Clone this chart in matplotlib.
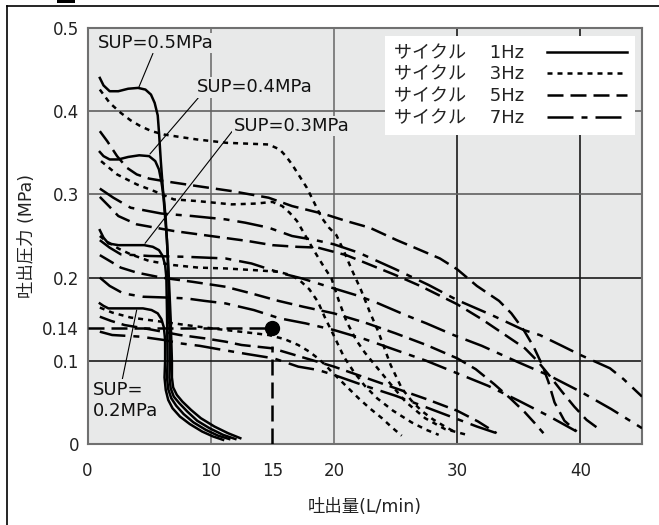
import matplotlib
matplotlib.use("Agg")
import matplotlib.pyplot as plt
from matplotlib.lines import Line2D
from matplotlib.patches import Rectangle

plt.rcParams['font.family'] = ['DejaVu Sans', 'Noto Sans CJK JP']

# ---- data (x: L/min, y: MPa) ----
# 1Hz (solid) curves, SUP = 0.2 / 0.3 / 0.4 / 0.5 MPa
hz1_sup02_x = [1.0, 1.3, 1.7, 2.5, 3.5, 4.5, 5.2, 5.7, 6.0, 6.2, 6.3, 6.3, 6.25, 6.35, 6.55, 6.9, 7.5, 8.3, 9.3, 10.2, 11.0]
hz1_sup02_y = [0.169, 0.166, 0.163, 0.163, 0.163, 0.163, 0.161, 0.157, 0.15, 0.14, 0.125, 0.1, 0.08, 0.065, 0.053, 0.043, 0.033, 0.024, 0.015, 0.009, 0.005]
hz1_sup03_x = [1.0, 1.3, 1.7, 2.5, 3.5, 4.6, 5.3, 5.8, 6.1, 6.3, 6.4, 6.45, 6.5, 6.45, 6.55, 6.8, 7.2, 7.8, 8.6, 9.6, 10.6, 11.5]
hz1_sup03_y = [0.257, 0.248, 0.241, 0.239, 0.239, 0.239, 0.237, 0.233, 0.226, 0.215, 0.2, 0.16, 0.1, 0.08, 0.066, 0.055, 0.046, 0.036, 0.026, 0.017, 0.01, 0.006]
hz1_sup04_x = [1.0, 1.3, 1.8, 2.5, 3.3, 4.2, 5.0, 5.5, 5.8, 6.0, 6.2, 6.35, 6.5, 6.6, 6.65, 6.7, 6.65, 6.75, 7.0, 7.45, 8.1, 8.9, 9.9, 11.0, 12.0]
hz1_sup04_y = [0.351, 0.346, 0.342, 0.342, 0.345, 0.347, 0.346, 0.34, 0.33, 0.315, 0.295, 0.27, 0.23, 0.18, 0.14, 0.1, 0.08, 0.067, 0.057, 0.049, 0.039, 0.028, 0.019, 0.011, 0.006]
hz1_sup05_x = [1.0, 1.3, 1.8, 2.5, 3.3, 4.1, 4.7, 5.15, 5.45, 5.7, 5.8, 5.95, 6.15, 6.45, 6.6, 6.75, 6.85, 6.85, 6.95, 7.25, 7.7, 8.4, 9.2, 10.3, 11.4, 12.4]
hz1_sup05_y = [0.44, 0.431, 0.424, 0.424, 0.427, 0.428, 0.426, 0.42, 0.41, 0.395, 0.375, 0.34, 0.3, 0.245, 0.2, 0.15, 0.1, 0.08, 0.068, 0.059, 0.051, 0.041, 0.031, 0.021, 0.013, 0.007]

# 3Hz (dotted)
hz3_sup02_x = [1.0, 2.0, 3.5, 5.0, 7.0, 9.0, 11.2, 13.0, 14.7, 16.0, 17.1, 18.0, 18.7, 19.3, 19.8, 20.9, 22.0, 22.9, 23.9, 24.7, 25.5]
hz3_sup02_y = [0.164, 0.158, 0.152, 0.149, 0.145, 0.141, 0.137, 0.134, 0.131, 0.126, 0.119, 0.111, 0.103, 0.095, 0.087, 0.071, 0.055, 0.043, 0.031, 0.02, 0.01]
hz3_sup03_x = [1.0, 1.5, 2.5, 3.5, 5.0, 7.0, 9.0, 11.2, 13.5, 15.5, 16.5, 17.2, 18.0, 18.7, 19.3, 20.0, 20.8, 21.6, 22.5, 23.5, 24.8, 26.3, 27.5, 28.5]
hz3_sup03_y = [0.25, 0.244, 0.235, 0.228, 0.22, 0.215, 0.212, 0.211, 0.209, 0.207, 0.203, 0.197, 0.186, 0.171, 0.151, 0.13, 0.105, 0.087, 0.07, 0.055, 0.04, 0.026, 0.017, 0.011]
hz3_sup04_x = [1.1, 2.4, 4.0, 5.4, 7.0, 8.9, 11.7, 13.7, 15.0, 15.8, 16.4, 17.0, 17.7, 18.4, 19.1, 19.8, 20.4, 21.0, 21.8, 22.5, 23.6, 24.6, 25.8, 27.4, 29.0, 30.8]
hz3_sup04_y = [0.34, 0.324, 0.312, 0.304, 0.294, 0.292, 0.288, 0.289, 0.291, 0.286, 0.278, 0.268, 0.25, 0.232, 0.215, 0.199, 0.172, 0.148, 0.125, 0.11, 0.09, 0.072, 0.051, 0.031, 0.018, 0.011]
hz3_sup05_x = [1.0, 1.8, 2.7, 3.5, 4.3, 5.2, 6.2, 7.5, 8.9, 10.1, 11.3, 13.0, 14.7, 15.6, 16.1, 16.6, 17.2, 17.8, 18.4, 19.0, 19.6, 20.2, 20.8, 21.4, 22.2, 22.9, 23.6, 24.1, 24.6, 25.5, 26.3, 27.1, 28.0, 29.0, 30.0]
hz3_sup05_y = [0.426, 0.41, 0.398, 0.389, 0.382, 0.376, 0.372, 0.369, 0.366, 0.364, 0.362, 0.361, 0.36, 0.354, 0.346, 0.336, 0.322, 0.308, 0.29, 0.272, 0.26, 0.251, 0.232, 0.211, 0.185, 0.159, 0.135, 0.115, 0.095, 0.067, 0.052, 0.04, 0.03, 0.021, 0.013]

# 5Hz (dashed)
hz5_sup02_x = [1.0, 1.9, 3.0, 5.0, 7.5, 9.5, 11.2, 12.5, 15.0, 17.5, 20.0, 22.5, 25.0, 27.5, 30.0, 31.7, 33.2]
hz5_sup02_y = [0.153, 0.148, 0.143, 0.138, 0.131, 0.127, 0.123, 0.119, 0.115, 0.104, 0.093, 0.08, 0.067, 0.054, 0.04, 0.027, 0.013]
hz5_sup03_x = [1.0, 1.8, 2.7, 4.0, 6.0, 8.5, 11.2, 13.3, 15.5, 17.5, 20.0, 22.5, 25.0, 27.5, 30.0, 31.5, 33.0, 34.3, 35.5, 36.3, 37.0]
hz5_sup03_y = [0.227, 0.22, 0.212, 0.206, 0.2, 0.195, 0.189, 0.181, 0.172, 0.165, 0.157, 0.146, 0.133, 0.119, 0.103, 0.09, 0.072, 0.055, 0.038, 0.025, 0.013]
hz5_sup04_x = [1.0, 1.8, 2.5, 4.0, 7.0, 11.0, 13.0, 15.0, 17.0, 18.7, 21.0, 23.0, 25.0, 27.0, 30.0, 32.0, 34.0, 35.5, 36.5, 37.5, 38.5, 39.5, 40.5, 41.6]
hz5_sup04_y = [0.297, 0.285, 0.274, 0.264, 0.256, 0.248, 0.244, 0.239, 0.237, 0.236, 0.227, 0.215, 0.203, 0.19, 0.168, 0.15, 0.13, 0.115, 0.1, 0.082, 0.063, 0.045, 0.029, 0.017]
hz5_sup05_x = [1.0, 1.6, 2.4, 3.2, 4.0, 5.0, 6.2, 8.9, 11.7, 14.7, 16.6, 19.3, 21.0, 22.9, 25.1, 26.7, 28.6, 30.0, 31.6, 33.4, 34.4, 35.4, 36.2, 36.9, 37.4, 37.9, 38.7, 39.7]
hz5_sup05_y = [0.376, 0.364, 0.346, 0.332, 0.324, 0.319, 0.316, 0.31, 0.304, 0.296, 0.286, 0.276, 0.268, 0.26, 0.245, 0.235, 0.223, 0.21, 0.19, 0.172, 0.157, 0.137, 0.117, 0.095, 0.075, 0.05, 0.028, 0.015]

# 7Hz (dash-dot)
hz7_sup02_x = [1.0, 2.0, 4.3, 6.2, 7.5, 9.1, 11.0, 13.0, 15.1, 17.1, 18.7, 20.0, 22.5, 25.0, 27.5, 30.0, 31.6, 33.2]
hz7_sup02_y = [0.135, 0.131, 0.129, 0.125, 0.121, 0.118, 0.113, 0.108, 0.103, 0.093, 0.089, 0.083, 0.07, 0.058, 0.044, 0.03, 0.021, 0.013]
hz7_sup03_x = [1.0, 1.8, 2.9, 4.5, 6.5, 8.0, 9.5, 11.2, 13.5, 15.6, 17.7, 20.0, 22.5, 25.0, 27.5, 30.0, 32.5, 35.0, 37.5, 39.7]
hz7_sup03_y = [0.2, 0.19, 0.181, 0.177, 0.176, 0.175, 0.172, 0.169, 0.161, 0.151, 0.145, 0.137, 0.126, 0.113, 0.1, 0.085, 0.07, 0.052, 0.033, 0.015]
hz7_sup04_x = [1.0, 1.8, 2.7, 5.0, 8.0, 11.2, 13.3, 15.8, 17.4, 20.0, 22.0, 23.6, 25.8, 27.5, 29.7, 32.0, 35.0, 37.5, 40.0, 42.5, 45.0]
hz7_sup04_y = [0.245, 0.236, 0.228, 0.226, 0.225, 0.223, 0.217, 0.205, 0.199, 0.187, 0.178, 0.169, 0.155, 0.145, 0.131, 0.118, 0.098, 0.082, 0.063, 0.042, 0.019]
hz7_sup05_x = [1.0, 2.1, 3.5, 6.0, 8.5, 11.2, 12.8, 14.7, 16.6, 18.5, 20.0, 22.0, 25.0, 27.7, 30.0, 32.8, 35.4, 36.7, 38.5, 40.0, 42.4, 43.5, 45.0]
hz7_sup05_y = [0.307, 0.296, 0.284, 0.277, 0.274, 0.27, 0.266, 0.26, 0.25, 0.245, 0.24, 0.23, 0.21, 0.191, 0.173, 0.155, 0.137, 0.131, 0.118, 0.107, 0.091, 0.078, 0.057]

# rated point
rated_flow = 15
rated_press = 0.14
rated_curve_press = 0.118

legend_labels = ['サイクル\u3000 1Hz', 'サイクル\u3000 3Hz', 'サイクル\u3000 5Hz', 'サイクル\u3000 7Hz']
yticks = [0, 0.1, 0.14, 0.2, 0.3, 0.4, 0.5]
ytick_labels = ['0', '0.1', '0.14', '0.2', '0.3', '0.4', '0.5']
xticks = [0, 10, 15, 20, 30, 40]

# ---- styles ----
LW = 1.8
DOT = (0, (2.0, 2.0))
DASH = (0, (6.4, 2.8))
DASHDOT = (0, (10.4, 3.2, 2.4, 3.2))
BG = '#e8e9e9'

fig = plt.figure(figsize=(6.59, 5.25), dpi=100)
ax = fig.add_axes([87.5 / 659, 81 / 525, 554.5 / 659, 416 / 525])
ax.set_facecolor(BG)
ax.set_xlim(0, 45)
ax.set_ylim(0, 0.5)

# grid
for gx, c in [(10, '#707070'), (20, '#707070'), (30, '#1a1a1a'), (40, '#1a1a1a')]:
    ax.axvline(gx, color=c, lw=1.2, zorder=1)
for gy, c in [(0.1, '#1a1a1a'), (0.2, '#1a1a1a'), (0.3, '#606060'), (0.4, '#606060')]:
    ax.axhline(gy, color=c, lw=1.2, zorder=1)

# 1Hz solid
for xs, ys in [(hz1_sup02_x, hz1_sup02_y), (hz1_sup03_x, hz1_sup03_y),
               (hz1_sup04_x, hz1_sup04_y), (hz1_sup05_x, hz1_sup05_y)]:
    ax.plot(xs, ys, color='black', lw=1.8, solid_joinstyle='round', zorder=4)

for xs, ys in [(hz3_sup02_x, hz3_sup02_y), (hz3_sup03_x, hz3_sup03_y),
               (hz3_sup04_x, hz3_sup04_y), (hz3_sup05_x, hz3_sup05_y)]:
    ax.plot(xs, ys, color='black', lw=LW, linestyle=DOT, zorder=3)

for xs, ys in [(hz5_sup02_x, hz5_sup02_y), (hz5_sup03_x, hz5_sup03_y),
               (hz5_sup04_x, hz5_sup04_y), (hz5_sup05_x, hz5_sup05_y)]:
    ax.plot(xs, ys, color='black', lw=LW, linestyle=DASH, zorder=3)

for xs, ys in [(hz7_sup02_x, hz7_sup02_y), (hz7_sup03_x, hz7_sup03_y),
               (hz7_sup04_x, hz7_sup04_y), (hz7_sup05_x, hz7_sup05_y)]:
    ax.plot(xs, ys, color='black', lw=LW, linestyle=DASHDOT, zorder=3)

# rated point with guide lines
ax.plot([0, rated_flow], [rated_press, rated_press], color='black', lw=LW, linestyle=DASH, zorder=3)
ax.plot([rated_flow, rated_flow], [0, rated_curve_press], color='black', lw=LW, linestyle=DASH, zorder=3)
ax.plot([rated_flow], [rated_press], 'o', color='black', markersize=10, zorder=5)

# SUP labels with leader lines
lab_kw = dict(fontsize=13, color='#111111', zorder=6,
              bbox=dict(facecolor=BG, edgecolor='none', pad=1))
ax.annotate('SUP=0.5MPa', xy=(4.13, 0.4275), xytext=(0.85, 0.482), va='center', ha='left',
            arrowprops=dict(arrowstyle='-', lw=0.8, color='black', shrinkA=0, shrinkB=0,
                            relpos=(0.48, 0.0)), **lab_kw)
ax.annotate('SUP=0.4MPa', xy=(5.07, 0.3486), xytext=(8.9, 0.4285), va='center', ha='left',
            arrowprops=dict(arrowstyle='-', lw=0.8, color='black', shrinkA=0, shrinkB=0,
                            relpos=(0.02, 0.0)), **lab_kw)
ax.annotate('SUP=0.3MPa', xy=(4.67, 0.2412), xytext=(11.85, 0.3822), va='center', ha='left',
            arrowprops=dict(arrowstyle='-', lw=0.8, color='black', shrinkA=0, shrinkB=0,
                            relpos=(0.0, 0.3)), **lab_kw)
ax.annotate('SUP=\n0.2MPa', xy=(3.99, 0.161), xytext=(0.42, 0.0525), va='center', ha='left',
            linespacing=1.25,
            arrowprops=dict(arrowstyle='-', lw=0.8, color='black', shrinkA=0, shrinkB=0,
                            relpos=(0.45, 1.0)), **lab_kw)

# legend
handles = [Line2D([], [], color='black', lw=LW),
           Line2D([], [], color='black', lw=LW, linestyle=DOT),
           Line2D([], [], color='black', lw=LW, linestyle=DASH),
           Line2D([], [], color='black', lw=LW, linestyle=DASHDOT)]
leg = ax.legend(handles, legend_labels, loc='upper right', bbox_to_anchor=(0.987, 0.981),
                borderaxespad=0, markerfirst=False, handlelength=4.4, handletextpad=1.3,
                labelspacing=0.2, borderpad=0.45, fancybox=False, framealpha=1,
                prop={'size': 13})
leg.get_frame().set_edgecolor('white')
leg.get_frame().set_linewidth(0)
leg.set_zorder(7)
for t in leg.get_texts():
    t.set_color('#222222')

# axes
ax.set_xticks(xticks)
ax.set_xticklabels([str(v) for v in xticks])
ax.set_yticks(yticks)
ax.set_yticklabels(ytick_labels)
ax.tick_params(axis='both', length=0, labelsize=12, labelcolor='#222222')
ax.tick_params(axis='x', pad=13)
ax.tick_params(axis='y', pad=6)
for s in ax.spines.values():
    s.set_color('#707070')
    s.set_linewidth(1.5)

ax.set_xlabel('吐出量(L/min)', fontsize=12.5, color='#222222')
ax.xaxis.set_label_coords(0.5, -0.151)
ax.xaxis.label.set_va('center')
ax.set_ylabel('吐出圧力 (MPa)', fontsize=12.5, color='#222222')
ax.yaxis.set_label_coords(-0.109, 0.5)
ax.yaxis.label.set_va('center')

# outer frame and header mark
fig.add_artist(Line2D([7 / 659, 7 / 659], [0, 1 - 6 / 525], transform=fig.transFigure,
                      color='black', lw=1.2))
fig.add_artist(Line2D([7 / 659, 1], [1 - 6 / 525, 1 - 6 / 525], transform=fig.transFigure,
                      color='black', lw=1.2))
fig.add_artist(Rectangle((57 / 659, 1 - 3 / 525), 18 / 659, 3 / 525, transform=fig.transFigure,
                         color='black', lw=0))

fig.savefig('out.png', dpi=100)
